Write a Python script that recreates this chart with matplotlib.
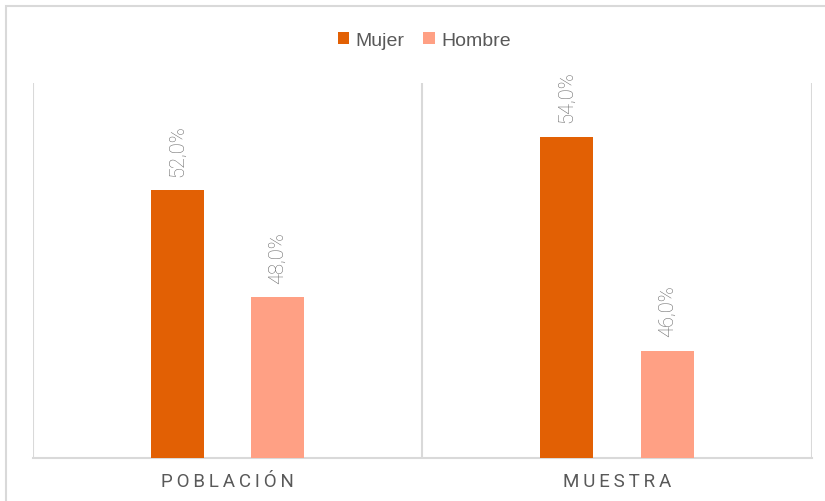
import matplotlib
matplotlib.use("Agg")
import matplotlib.pyplot as plt
from matplotlib.patches import Rectangle
import numpy as np

# data
categorias = ["POBLACIÓN", "MUESTRA"]
series = ["Mujer", "Hombre"]
mujer = [52.0, 54.0]
hombre = [48.0, 46.0]

colores = {"Mujer": "#E26004", "Hombre": "#FFA084"}
gris_lineas = "#D9D9D9"

fig = plt.figure(figsize=(8.25, 5.02), dpi=100)
ax = fig.add_axes([0.04, 0.0857, 0.944, 0.747])

x = np.arange(len(categorias))
ancho = 0.136
desp = 0.129

b1 = ax.bar(x - desp, mujer, ancho, bottom=0, color=colores["Mujer"], label="Mujer", zorder=3)
b2 = ax.bar(x + desp, hombre, ancho, bottom=0, color=colores["Hombre"], label="Hombre", zorder=3)

ax.set_ylim(42, 56)
ax.set_xlim(-0.5, len(categorias) - 0.5)

# etiquetas de valor giradas
for barras, valores in ((b1, mujer), (b2, hombre)):
    for rect, v in zip(barras, valores):
        ax.annotate(f"{v:.1f}%".replace(".", ","),
                    (rect.get_x() + rect.get_width() / 2, v),
                    xytext=(0, 10.5), textcoords="offset points",
                    rotation=90, ha="center", va="bottom",
                    fontsize=14.5, color="#6A6A6A", family="Roboto",
                    fontweight="light")

# separadores verticales entre categorias
for xs in np.arange(-0.5, len(categorias), 1.0):
    ax.axvline(xs, color=gris_lineas, lw=1.5, zorder=1)

for s in ("top", "right", "left"):
    ax.spines[s].set_visible(False)
ax.spines["bottom"].set_color(gris_lineas)
ax.spines["bottom"].set_linewidth(1.5)
ax.set_yticks([])
ax.set_xticks(x)
ax.set_xticklabels(["\u2009".join(c) for c in categorias],
                   fontsize=13.5, color="#595959", family="Roboto")
ax.tick_params(axis="x", length=0, pad=10)

leg = fig.legend(handles=[b1, b2], loc="center", bbox_to_anchor=(0.514, 0.917),
                 ncol=2, frameon=False, handlelength=0.6,
                 handleheight=0.6, handletextpad=0.3, columnspacing=1.0,
                 prop={"family": "Liberation Sans", "size": 14})
for t in leg.get_texts():
    t.set_color("#595959")

# borde del grafico
fig.patches.append(Rectangle((6 / 825, -0.1), 1.2, 1.1 - 7 / 502,
                             transform=fig.transFigure, fill=False,
                             edgecolor=gris_lineas, lw=1.5))

fig.savefig("out.png", dpi=100, facecolor="white")
